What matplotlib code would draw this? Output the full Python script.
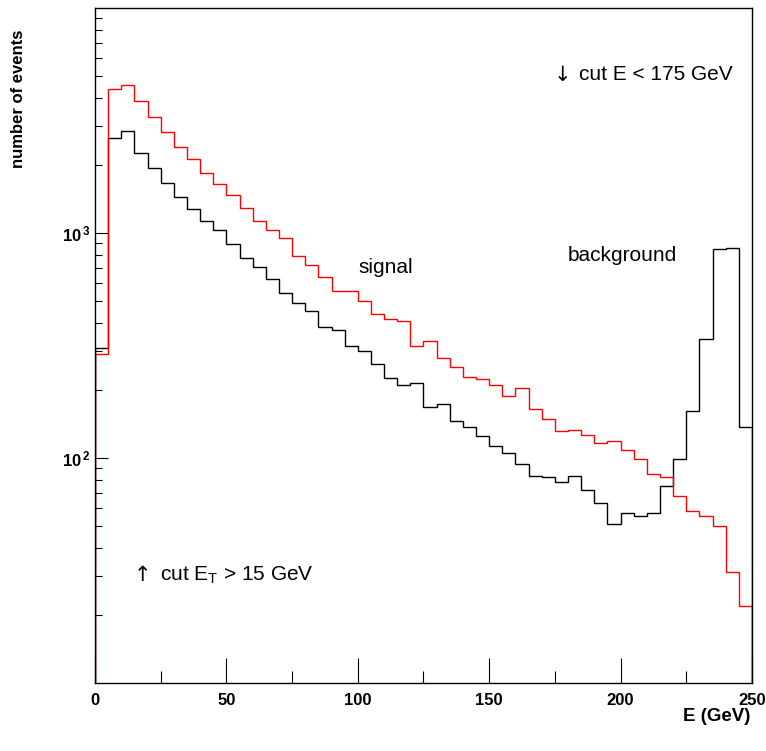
import numpy as np
import matplotlib
matplotlib.use("Agg")
import matplotlib.pyplot as plt
from matplotlib.ticker import FixedLocator, LogLocator, NullFormatter

plt.rcParams["font.family"] = ["Liberation Sans", "DejaVu Sans"]
plt.rcParams["mathtext.fontset"] = "custom"
plt.rcParams["mathtext.rm"] = "Liberation Sans"
plt.rcParams["mathtext.bf"] = "Liberation Sans:bold"

# ------------------------------------------------------------
# Data: 5 GeV bins from 0 to 250 GeV
# ------------------------------------------------------------
bin_edges = np.arange(0, 255, 5)

signal = [290, 4355, 4529, 3845, 3286, 2811, 2411, 2127, 1854, 1651,
          1483, 1288, 1131, 1034, 947, 793, 718, 637, 552, 555,
          501, 435, 413, 406, 315, 330, 278, 254, 230, 224,
          211, 189, 204, 165, 149, 132, 133, 127, 117, 119,
          109, 99, 85, 82, 68, 58, 55, 50, 31, 22]

background = [308, 2655, 2839, 2259, 1950, 1673, 1442, 1274, 1134, 1031,
              898, 772, 708, 627, 540, 487, 452, 384, 371, 315,
              300, 262, 227, 211, 215, 169, 173, 146, 138, 125,
              113, 105, 94, 83, 82, 78, 83, 72, 63, 51,
              57, 55, 57, 75, 99, 161, 339, 847, 858, 137]

y_major = [1e2, 1e3]
y_labels = [r"$\mathbf{10^{\,2}}$", r"$\mathbf{10^{\,3}}$"]
x_major = [0, 50, 100, 150, 200, 250]

# ------------------------------------------------------------
# Figure
# ------------------------------------------------------------
fig = plt.figure(figsize=(7.66, 7.51), dpi=100)
ax = fig.add_axes([0.124, 0.0905, 0.8577, 0.8988])

ax.stairs(background, bin_edges, baseline=1, color="black", lw=1.0)
ax.stairs(signal, bin_edges, baseline=1, color="#ff0000", lw=1.0)

ax.set_yscale("log")
ax.set_xlim(0, 250)
ax.set_ylim(10, 1e4)

# ticks
ax.xaxis.set_major_locator(FixedLocator(x_major))
ax.xaxis.set_minor_locator(FixedLocator([25, 75, 125, 175, 225]))
ax.set_xticklabels([str(v) for v in x_major], fontsize=12, fontweight="bold")
ax.tick_params(axis="x", which="major", direction="in", length=18, width=0.8,
               pad=7, top=False)
ax.tick_params(axis="x", which="minor", direction="in", length=9, width=0.8,
               top=False)

ax.yaxis.set_major_locator(FixedLocator(y_major))
ax.set_yticklabels(y_labels, fontsize=12)
ax.yaxis.set_minor_locator(LogLocator(base=10, subs=np.arange(2, 10)))
ax.yaxis.set_minor_formatter(NullFormatter())
ax.tick_params(axis="y", which="major", direction="in", length=9.5, width=0.8,
               pad=3, right=False)
ax.tick_params(axis="y", which="minor", direction="in", length=5, width=0.8,
               right=False)

for sp in ax.spines.values():
    sp.set_linewidth(1.0)

# axis titles
fig.text(0.979, 0.046, "E (GeV)", ha="right", va="center",
         fontsize=13.5, fontweight="bold")
fig.text(0.0235, 0.96, "number of events", rotation=90, ha="center", va="top",
         fontsize=12, fontweight="bold")

# annotations (arrows drawn separately so they come out full height)
ax.text(0.698, 0.901, "\u2193", transform=ax.transAxes, family="DejaVu Sans",
        fontsize=15, va="center", ha="left")
ax.text(0.7367, 0.901, "cut E < 175 GeV", transform=ax.transAxes,
        fontsize=15, va="center", ha="left")
ax.text(0.0589, 0.160, "\u2191", transform=ax.transAxes, family="DejaVu Sans",
        fontsize=15, va="center", ha="left")
ax.text(0.0989, 0.160, "cut E$_{\\mathrm{T}}$ > 15 GeV",
        transform=ax.transAxes, fontsize=15, va="center", ha="left")
ax.text(0.4003, 0.615, "signal", transform=ax.transAxes,
        fontsize=15, va="center", ha="left")
ax.text(0.7199, 0.633, "background", transform=ax.transAxes,
        fontsize=15, va="center", ha="left")

fig.savefig("out.png", dpi=100)
